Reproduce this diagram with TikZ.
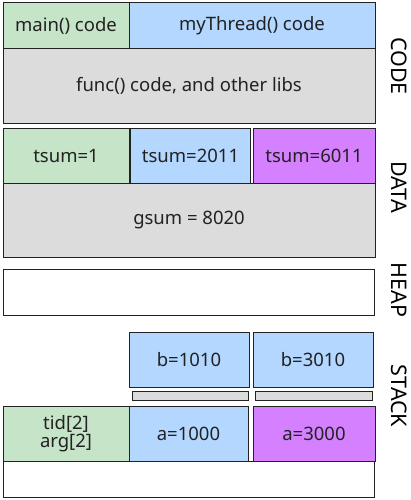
\documentclass[tikz,border=0pt]{standalone}
\usepackage{fontspec}
\setmainfont{Noto Sans}
\definecolor{cgreen}{HTML}{C6E4C8}
\definecolor{cblue}{HTML}{B3D7FF}
\definecolor{cpurple}{HTML}{D580FF}
\definecolor{cgray}{HTML}{DCDCDC}
\definecolor{cline}{HTML}{222222}
\tikzset{
  box/.style={draw=cline, line width=1pt, inner sep=0pt, outer sep=0pt, text=cline,
    font=\fontsize{18.5}{21}\selectfont, align=center},
  seglabel/.style={rotate=-90, inner sep=0pt, text=black, font=\fontsize{21.5}{24}\selectfont}
}
\begin{document}
\begin{tikzpicture}[x=1pt,y=-1pt]
\useasboundingbox (0,0) rectangle (410,500);
% CODE
\node[box, fill=cgreen, minimum width=126pt, minimum height=46pt] (mainc) at (66,26) {main() code};
\node[box, fill=cblue, minimum width=246pt, minimum height=46pt] (thrc) at (252,26) {myThread() code};
\node[box, fill=cgray, minimum width=372pt, minimum height=74pt] (func) at (189,86) {func() code, and other libs};
% DATA
\node[box, fill=cgreen, minimum width=126pt, minimum height=55pt] (ts1) at (66,155.5) {tsum=1};
\node[box, fill=cblue, minimum width=120pt, minimum height=55pt] (ts2) at (190.5,155.5) {tsum=2011};
\node[box, fill=cpurple, minimum width=122pt, minimum height=55pt] (ts3) at (314,155.5) {tsum=6011};
\node[box, fill=cgray, minimum width=372pt, minimum height=74pt] (gsum) at (189,220) {gsum = 8020};
% HEAP
\node[box, fill=white, minimum width=371pt, minimum height=46pt] (heap) at (188.5,292) {};
% STACK
\node[box, fill=cblue, minimum width=120pt, minimum height=55pt] (b1) at (189,359.5) {b=1010};
\node[box, fill=cblue, minimum width=120pt, minimum height=55pt] (b2) at (313,359.5) {b=3010};
\node[box, fill=cgray, minimum width=116pt, minimum height=9pt] (bar1) at (190,395.5) {};
\node[box, fill=cgray, minimum width=117pt, minimum height=9pt] (bar2) at (313.5,395.5) {};
\node[box, fill=cgreen, minimum width=126pt, minimum height=55pt] (tid) at (66,433.5) {tid[2]\\[-3pt]arg[2]};
\node[box, fill=cblue, minimum width=119pt, minimum height=55pt] (a1) at (188.5,433.5) {a=1000};
\node[box, fill=cpurple, minimum width=122pt, minimum height=55pt] (a2) at (314,433.5) {a=3000};
\node[box, fill=white, minimum width=371pt, minimum height=36pt] (bot) at (188.5,479) {};
% labels
\node[seglabel] (lcode) at (399,66) {CODE};
\node[seglabel] (ldata) at (399,187) {DATA};
\node[seglabel] (lheap) at (399,290) {HEAP};
\node[seglabel] (lstack) at (399,396) {STACK};
\end{tikzpicture}
\end{document}
